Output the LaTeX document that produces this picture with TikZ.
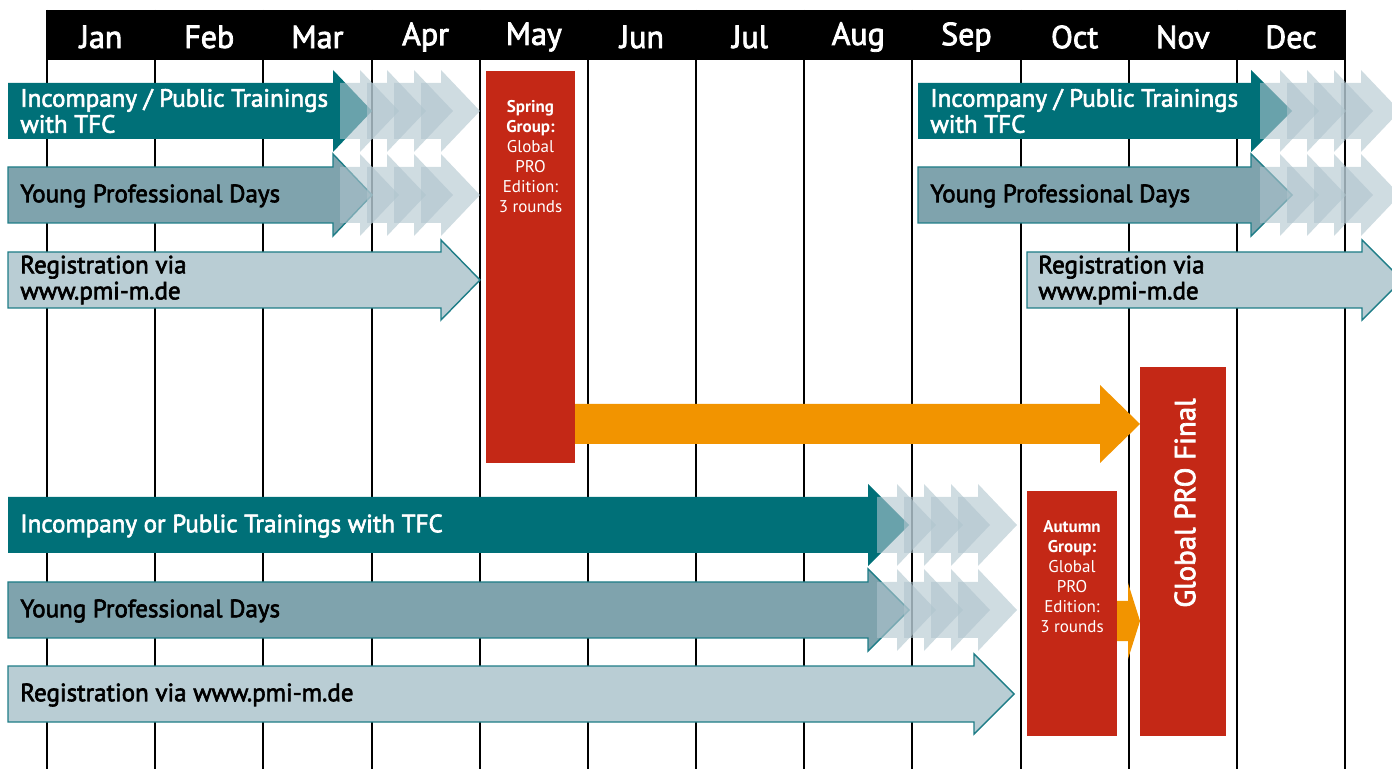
\documentclass[tikz,border=0pt]{standalone}
\usepackage{fontspec}
\setmainfont{PT Sans}
\newfontfamily\medfont[FakeBold=2.5]{PT Sans}
\usepackage{tikz}
\usetikzlibrary{calc}

\definecolor{tealdark}{RGB}{0,112,120}
\definecolor{tealmid}{RGB}{127,163,173}
\definecolor{teallight}{RGB}{185,205,212}
\definecolor{tealline}{RGB}{30,125,135}
\definecolor{ghostc}{RGB}{175,196,205}
\definecolor{planred}{RGB}{196,40,22}
\definecolor{planorange}{RGB}{242,148,0}

% arrow band: style, left x, head x, tip x, mid y, body half, head half
\newcommand{\planarrow}[7]{%
  \path[#1] (#2,#5-#6) -- (#3,#5-#6) -- (#3,#5-#7) -- (#4,#5)
    -- (#3,#5+#7) -- (#3,#5+#6) -- (#2,#5+#6) -- cycle;}
% fading chevrons behind an arrow tip
\newcommand{\ghosts}[2]{%
  \foreach \k in {1,...,4} {%
    \pgfmathsetmacro\ghtip{#1+27*\k}
    \planarrow{ghost}{\ghtip-59}{\ghtip-39}{\ghtip}{#2}{28}{41}
  }}

\begin{document}
\begin{tikzpicture}[
  x=0.5pt, y=-0.5pt,
  gridline/.style = {draw=black, line width=1pt},
  month/.style = {text=white, font=\fontsize{16}{18}\selectfont\medfont},
  rowtext/.style = {anchor=west, align=left, inner sep=0pt, font=\fontsize{12.5}{13}\selectfont\medfont},
  boxtext/.style = {text=white, align=center, inner sep=0pt, font=\fontsize{8.5}{10}\selectfont},
  darkrow/.style = {fill=tealdark},
  midrow/.style = {fill=tealmid, draw=tealline, line width=0.7pt},
  lightrow/.style = {fill=teallight, draw=tealline, line width=0.7pt},
  ghost/.style = {fill=ghostc, fill opacity=0.6},
  redbox/.style = {fill=planred},
  flow/.style = {fill=planorange}
  ]
  \useasboundingbox (0,0) rectangle (1392,769);
  \clip (0,0) rectangle (1392,769);

  % month grid
  \foreach \i in {0,...,12}
    \draw[gridline] ({47+108.17*\i},10) -- ({47+108.17*\i},769);
  \fill[black] (47,10) rectangle (1345,60);
  \foreach \m [count=\i] in {Jan,Feb,Mar,Apr,May,Jun,Jul,Aug,Sep,Oct,Nov,Dec}
    \node[month] (m\i) at ({47+108.17*(\i-0.5)},37) {\m};

  % spring rows
  \planarrow{darkrow}{8}{333}{372}{111}{28}{41}
  \planarrow{midrow}{8}{333}{372}{195}{28}{41}
  \ghosts{372}{111}
  \ghosts{372}{195}
  \planarrow{lightrow}{8}{441}{480}{280}{28}{40}
  \node[rowtext, text=white] (tr1) at (20,111) {Incompany / Public Trainings\\with TFC};
  \node[rowtext] (yp1) at (20,196) {Young Professional Days};
  \node[rowtext] (rg1) at (20,280) {Registration via\\www.pmi-m.de};

  % autumn rows (top right)
  \planarrow{darkrow}{918}{1251}{1292}{111}{28}{41}
  \planarrow{midrow}{918}{1251}{1292}{195}{28}{41}
  \ghosts{1292}{111}
  \ghosts{1292}{195}
  \planarrow{lightrow}{1027}{1362}{1402}{280}{28}{40}
  \node[rowtext, text=white] (tr2) at (930,111) {Incompany / Public Trainings\\with TFC};
  \node[rowtext] (yp2) at (930,196) {Young Professional Days};
  \node[rowtext] (rg2) at (1038,280) {Registration via\\www.pmi-m.de};

  % lower rows
  \planarrow{darkrow}{8}{868}{909}{525}{28}{41}
  \planarrow{midrow}{8}{868}{909}{610}{28}{41}
  \ghosts{909}{525}
  \ghosts{909}{610}
  \planarrow{lightrow}{8}{974}{1014}{694}{28}{40}
  \node[rowtext, text=white] (tr3) at (20,526) {Incompany or Public Trainings with TFC};
  \node[rowtext] (yp3) at (20,611) {Young Professional Days};
  \node[rowtext] (rg3) at (20,695) {Registration via www.pmi-m.de};

  % competition boxes
  \fill[redbox] (486,71) rectangle (575,463);
  \node[boxtext] (spring) at (530.5,157) {\textbf{Spring}\\\textbf{Group:}\\Global\\PRO\\Edition:\\3 rounds};
  \fill[redbox] (1027,491) rectangle (1117,736);
  \node[boxtext] (autumn) at (1072,577) {\textbf{Autumn}\\\textbf{Group:}\\Global\\PRO\\Edition:\\3 rounds};
  \fill[redbox] (1140,367) rectangle (1226,736);
  \node[text=white, rotate=90, font=\fontsize{14.5}{17}\selectfont\medfont] (final) at (1185,503) {Global PRO Final};

  % flows to the final
  \planarrow{flow}{575}{1100}{1140}{424}{20}{39}
  \planarrow{flow}{1117}{1128}{1140}{621}{20}{38}
\end{tikzpicture}
\end{document}
